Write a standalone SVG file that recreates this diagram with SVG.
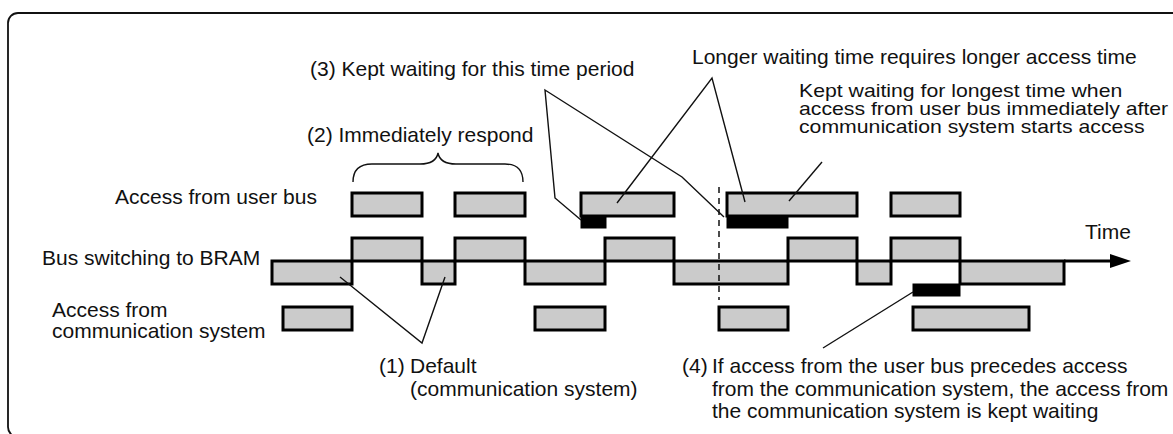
<svg xmlns="http://www.w3.org/2000/svg" width="1173" height="434" viewBox="0 0 1173 434">
<style>
text{font-family:"Liberation Sans",Arial,sans-serif;font-size:21px;fill:#111}
.sm{font-size:18px}
.box{fill:#cbcbcb;stroke:#000;stroke-width:3}
.blk{fill:#000;stroke:#000;stroke-width:1}
.lead{fill:none;stroke:#111;stroke-width:1.4}
</style>
<rect x="8" y="13" width="1200" height="424" rx="10" fill="#fff" stroke="#111" stroke-width="1.8"/>
<g id="labels">
<text x="115" y="204">Access from user bus</text>
<text x="42" y="265">Bus switching to BRAM</text>
<text x="52" y="317">Access from</text>
<text x="52" y="338">communication system</text>
<text x="1085" y="239">Time</text>
</g>
<g id="user-bus">
<rect class="box" x="352" y="193" width="70" height="23"/>
<rect class="box" x="455" y="193" width="70" height="23"/>
<rect class="box" x="581" y="193" width="93" height="23"/>
<rect class="box" x="727" y="193" width="130" height="23"/>
<rect class="box" x="891" y="193" width="69" height="23"/>
<rect class="blk" x="581" y="216" width="25" height="12"/>
<rect class="blk" x="727" y="216" width="61" height="12"/>
</g>
<g id="bram">
<rect class="box" x="272" y="261" width="80" height="23"/>
<rect class="box" x="352" y="238" width="70" height="23"/>
<rect class="box" x="422" y="261" width="33" height="23"/>
<rect class="box" x="455" y="238" width="70" height="23"/>
<rect class="box" x="525" y="261" width="80" height="23"/>
<rect class="box" x="605" y="238" width="69" height="23"/>
<rect class="box" x="674" y="261" width="114" height="23"/>
<rect class="box" x="788" y="238" width="69" height="23"/>
<rect class="box" x="857" y="261" width="34" height="23"/>
<rect class="box" x="891" y="238" width="69" height="23"/>
<rect class="box" x="960" y="261" width="104" height="23"/>
<line x1="1064" y1="261" x2="1112" y2="261" stroke="#000" stroke-width="3"/>
<polygon points="1110,254 1131,261 1110,268" fill="#000"/>
<rect class="blk" x="913" y="284" width="47" height="12"/>
</g>
<g id="comm">
<rect class="box" x="283" y="307" width="69" height="23"/>
<rect class="box" x="535" y="307" width="70" height="23"/>
<rect class="box" x="719" y="307" width="69" height="23"/>
<rect class="box" x="913" y="307" width="116" height="23"/>
</g>
<g id="connectors">
<line x1="719" y1="187" x2="719" y2="300" stroke="#111" stroke-width="1.5" stroke-dasharray="6,5"/>
<path class="lead" d="M353,182 Q353,164 372,164 L420,164 Q436,164 438,153 Q440,164 456,164 L505,164 Q523,164 523,182"/>
<path class="lead" d="M581,220 L555,198 L545,90 L682,177 L724,217"/>
<path class="lead" d="M617,203 L712,78 L745,202"/>
<path class="lead" d="M822,162 L789,201"/>
<path class="lead" d="M340,277 L422,343 L445,277"/>
<path class="lead" d="M823,348 L913,292"/>
</g>
<g id="notes">
<text x="310" y="76">(3) Kept waiting for this time period</text>
<text x="692" y="64">Longer waiting time requires longer access time</text>
<text x="307" y="142">(2) Immediately respond</text>
<g transform="translate(799,0) scale(1.18,1)">
<text class="sm" x="0" y="97">Kept waiting for longest time when</text>
<text class="sm" x="0" y="115">access from user bus immediately after</text>
<text class="sm" x="0" y="133">communication system starts access</text>
</g>
<text x="379" y="373">(1)</text>
<text x="410" y="373">Default</text>
<text x="410" y="396">(communication system)</text>
<text x="682" y="373">(4)</text>
<text x="712" y="373">If access from the user bus precedes access</text>
<text x="712" y="396">from the communication system, the access from</text>
<text x="712" y="418">the communication system is kept waiting</text>
</g>
</svg>
